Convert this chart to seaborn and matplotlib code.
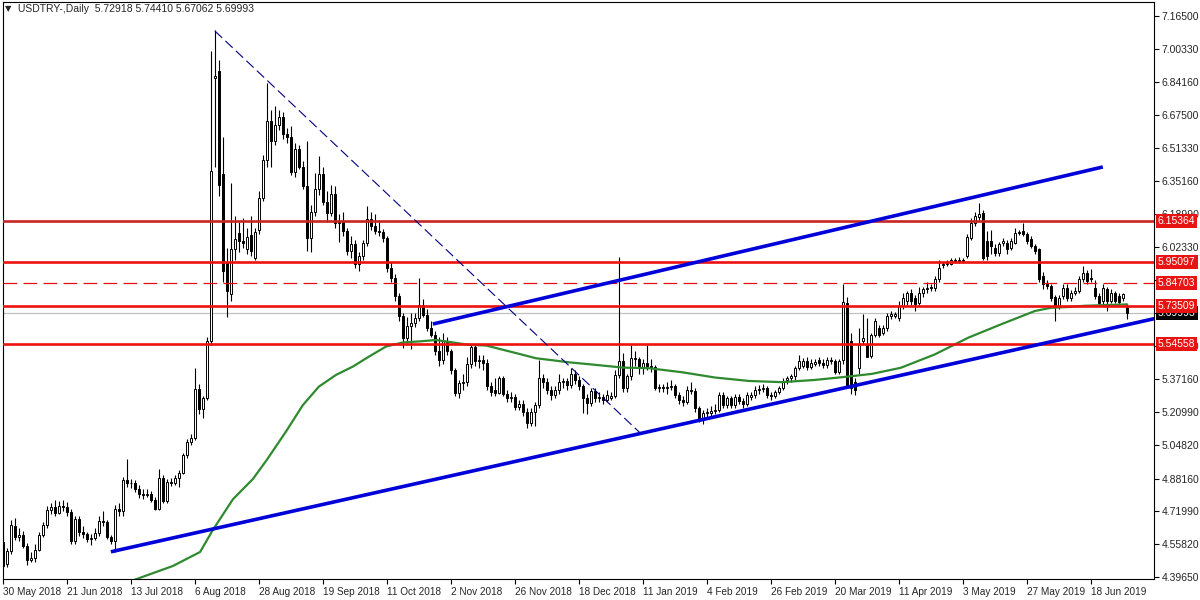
import numpy as np
import pandas as pd
import seaborn as sns
import matplotlib.pyplot as plt
import matplotlib.transforms as mtransforms

# USDTRY daily candles, 30 May 2018 .. 1 Jul 2019 (one value per bar)
opens = [
    4.567, 4.462, 4.523, 4.647, 4.594, 4.603, 4.550, 4.479, 4.488, 4.532,
    4.603, 4.655, 4.726, 4.740, 4.712, 4.745, 4.740, 4.717, 4.576, 4.682,
    4.620, 4.608, 4.585, 4.590, 4.612, 4.673, 4.668, 4.594, 4.576, 4.734,
    4.720, 4.876, 4.858, 4.860, 4.832, 4.805, 4.800, 4.805, 4.779, 4.734,
    4.885, 4.770, 4.867, 4.858, 4.885, 4.911, 5.000, 5.064, 5.082, 5.325,
    5.228, 5.281, 5.563, 6.858, 6.894, 6.383, 5.951, 5.792, 6.013, 6.092,
    6.056, 6.013, 6.083, 5.969, 6.110, 6.268, 6.453, 6.647, 6.550, 6.629,
    6.665, 6.585, 6.568, 6.393, 6.509, 6.418, 6.327, 6.071, 6.200, 6.310,
    6.385, 6.245, 6.195, 6.286, 6.145, 6.148, 6.104, 6.005, 6.038, 5.939,
    5.980, 6.046, 6.162, 6.129, 6.104, 6.100, 6.071, 5.922, 5.873, 5.782,
    5.683, 5.575, 5.633, 5.650, 5.675, 5.740, 5.690, 5.625, 5.592, 5.511,
    5.468, 5.559, 5.510, 5.418, 5.303, 5.352, 5.360, 5.450, 5.530, 5.464,
    5.466, 5.452, 5.340, 5.318, 5.305, 5.380, 5.302, 5.280, 5.284, 5.236,
    5.250, 5.210, 5.155, 5.212, 5.245, 5.377, 5.360, 5.320, 5.294, 5.320,
    5.360, 5.362, 5.344, 5.400, 5.370, 5.338, 5.279, 5.254, 5.312, 5.279,
    5.287, 5.270, 5.280, 5.288, 5.394, 5.460, 5.328, 5.386, 5.476, 5.470,
    5.427, 5.452, 5.440, 5.435, 5.328, 5.335, 5.328, 5.336, 5.340, 5.295,
    5.270, 5.262, 5.320, 5.312, 5.229, 5.171, 5.204, 5.208, 5.214, 5.222,
    5.295, 5.246, 5.279, 5.246, 5.287, 5.265, 5.250, 5.287, 5.293, 5.320,
    5.322, 5.330, 5.295, 5.290, 5.310, 5.328, 5.370, 5.377, 5.386, 5.427,
    5.440, 5.462, 5.435, 5.450, 5.468, 5.452, 5.443, 5.468, 5.463, 5.410,
    5.468, 5.750, 5.560, 5.360, 5.430, 5.559, 5.542, 5.486, 5.593, 5.623,
    5.602, 5.626, 5.684, 5.684, 5.676, 5.734, 5.758, 5.799, 5.775, 5.750,
    5.799, 5.820, 5.826, 5.822, 5.865, 5.935, 5.940, 5.943, 5.958, 5.956,
    5.959, 5.981, 6.071, 6.145, 6.173, 6.195, 6.055, 6.055, 6.022, 5.997,
    6.047, 6.047, 6.022, 6.047, 6.096, 6.104, 6.088, 6.063, 6.030, 6.014,
    5.882, 5.841, 5.832, 5.779, 5.734, 5.783, 5.824, 5.775, 5.799, 5.808,
    5.865, 5.898, 5.874, 5.824, 5.783, 5.758, 5.816, 5.758, 5.799, 5.783,
    5.775, 5.72918,
]
highs = [
    4.600, 4.540, 4.680, 4.690, 4.640, 4.625, 4.565, 4.520, 4.560, 4.620,
    4.670, 4.745, 4.760, 4.775, 4.770, 4.775, 4.765, 4.730, 4.700, 4.700,
    4.650, 4.620, 4.610, 4.640, 4.700, 4.720, 4.680, 4.605, 4.750, 4.760,
    4.890, 4.981, 4.880, 4.875, 4.850, 4.830, 4.830, 4.820, 4.790, 4.930,
    4.900, 4.880, 4.885, 4.900, 4.925, 5.010, 5.080, 5.100, 5.430, 5.350,
    5.290, 5.580, 6.991, 7.096, 6.946, 6.568, 6.020, 6.339, 6.180, 6.150,
    6.170, 6.120, 6.180, 6.120, 6.300, 6.480, 6.832, 6.700, 6.720, 6.700,
    6.690, 6.610, 6.620, 6.540, 6.530, 6.450, 6.550, 6.230, 6.390, 6.476,
    6.420, 6.300, 6.330, 6.327, 6.190, 6.200, 6.120, 6.080, 6.060, 6.000,
    6.060, 6.228, 6.200, 6.190, 6.160, 6.115, 6.080, 5.950, 5.890, 5.800,
    5.700, 5.680, 5.700, 5.700, 5.873, 5.770, 5.720, 5.660, 5.610, 5.580,
    5.600, 5.580, 5.520, 5.430, 5.370, 5.400, 5.480, 5.545, 5.545, 5.490,
    5.490, 5.470, 5.360, 5.380, 5.390, 5.390, 5.320, 5.310, 5.300, 5.270,
    5.270, 5.230, 5.230, 5.260, 5.468, 5.400, 5.380, 5.340, 5.340, 5.400,
    5.380, 5.380, 5.430, 5.420, 5.390, 5.350, 5.300, 5.330, 5.330, 5.310,
    5.300, 5.320, 5.310, 5.420, 5.974, 5.500, 5.400, 5.542, 5.510, 5.480,
    5.470, 5.542, 5.470, 5.445, 5.350, 5.350, 5.360, 5.370, 5.350, 5.310,
    5.290, 5.340, 5.360, 5.330, 5.240, 5.220, 5.230, 5.240, 5.250, 5.310,
    5.310, 5.290, 5.290, 5.300, 5.300, 5.280, 5.310, 5.310, 5.340, 5.345,
    5.350, 5.340, 5.310, 5.320, 5.340, 5.380, 5.390, 5.400, 5.440, 5.490,
    5.475, 5.480, 5.470, 5.470, 5.480, 5.470, 5.480, 5.480, 5.470, 5.470,
    5.842, 5.780, 5.600, 5.380, 5.625, 5.694, 5.674, 5.600, 5.676, 5.640,
    5.640, 5.700, 5.710, 5.705, 5.760, 5.800, 5.810, 5.820, 5.790, 5.830,
    5.830, 5.850, 5.840, 5.880, 5.960, 5.950, 5.960, 5.970, 5.970, 5.975,
    5.970, 6.090, 6.170, 6.200, 6.244, 6.210, 6.104, 6.110, 6.040, 6.050,
    6.070, 6.060, 6.070, 6.120, 6.110, 6.145, 6.100, 6.080, 6.040, 6.020,
    5.900, 5.860, 5.840, 5.790, 5.790, 5.840, 5.840, 5.815, 5.830, 5.880,
    5.930, 5.910, 5.915, 5.860, 5.800, 5.840, 5.830, 5.820, 5.810, 5.800,
    5.800, 5.74410,
]
lows = [
    4.440, 4.445, 4.510, 4.580, 4.575, 4.540, 4.455, 4.470, 4.470, 4.525,
    4.595, 4.640, 4.705, 4.700, 4.705, 4.720, 4.700, 4.560, 4.560, 4.600,
    4.590, 4.570, 4.555, 4.580, 4.600, 4.650, 4.585, 4.560, 4.520, 4.700,
    4.700, 4.840, 4.835, 4.815, 4.785, 4.780, 4.790, 4.765, 4.725, 4.725,
    4.760, 4.760, 4.845, 4.850, 4.840, 4.905, 4.985, 5.050, 5.075, 5.200,
    5.180, 5.270, 5.540, 6.418, 6.277, 5.854, 5.678, 5.760, 5.960, 6.000,
    6.020, 5.990, 5.980, 5.960, 6.090, 6.250, 6.420, 6.420, 6.530, 6.600,
    6.560, 6.540, 6.380, 6.370, 6.410, 6.310, 6.005, 6.000, 6.180, 6.280,
    6.230, 6.150, 6.180, 6.120, 6.050, 6.080, 5.985, 5.970, 5.920, 5.905,
    5.960, 6.030, 6.110, 6.090, 6.080, 6.050, 5.900, 5.850, 5.760, 5.660,
    5.526, 5.550, 5.520, 5.630, 5.660, 5.680, 5.610, 5.580, 5.490, 5.440,
    5.450, 5.490, 5.400, 5.290, 5.280, 5.320, 5.340, 5.430, 5.440, 5.430,
    5.420, 5.320, 5.290, 5.290, 5.300, 5.290, 5.260, 5.260, 5.220, 5.220,
    5.190, 5.133, 5.140, 5.140, 5.230, 5.330, 5.300, 5.270, 5.280, 5.300,
    5.330, 5.320, 5.330, 5.350, 5.320, 5.204, 5.200, 5.240, 5.260, 5.260,
    5.250, 5.260, 5.270, 5.280, 5.380, 5.310, 5.310, 5.370, 5.440, 5.400,
    5.400, 5.420, 5.410, 5.320, 5.310, 5.310, 5.300, 5.320, 5.280, 5.250,
    5.240, 5.250, 5.300, 5.210, 5.160, 5.150, 5.180, 5.190, 5.200, 5.210,
    5.230, 5.230, 5.230, 5.230, 5.250, 5.230, 5.240, 5.270, 5.280, 5.300,
    5.310, 5.280, 5.270, 5.280, 5.300, 5.320, 5.350, 5.360, 5.370, 5.420,
    5.430, 5.420, 5.425, 5.440, 5.440, 5.430, 5.430, 5.450, 5.400, 5.400,
    5.450, 5.330, 5.300, 5.295, 5.400, 5.540, 5.480, 5.478, 5.580, 5.580,
    5.590, 5.610, 5.670, 5.675, 5.660, 5.720, 5.740, 5.740, 5.709, 5.740,
    5.780, 5.800, 5.810, 5.810, 5.850, 5.920, 5.930, 5.935, 5.945, 5.945,
    5.945, 5.970, 6.060, 6.130, 6.160, 5.959, 5.960, 5.990, 5.980, 5.980,
    6.030, 5.990, 6.010, 6.040, 6.085, 6.080, 6.040, 6.020, 5.990, 5.850,
    5.820, 5.820, 5.760, 5.659, 5.720, 5.770, 5.760, 5.760, 5.790, 5.800,
    5.850, 5.840, 5.850, 5.770, 5.740, 5.740, 5.710, 5.750, 5.750, 5.740,
    5.760, 5.67062,
]
closes = [
    4.453, 4.523, 4.655, 4.594, 4.603, 4.550, 4.479, 4.488, 4.532, 4.603,
    4.655, 4.726, 4.740, 4.712, 4.745, 4.740, 4.717, 4.576, 4.682, 4.620,
    4.608, 4.585, 4.590, 4.612, 4.673, 4.668, 4.594, 4.576, 4.734, 4.720,
    4.876, 4.858, 4.860, 4.832, 4.805, 4.800, 4.805, 4.779, 4.734, 4.885,
    4.770, 4.867, 4.858, 4.885, 4.911, 5.000, 5.064, 5.082, 5.325, 5.228,
    5.281, 5.563, 6.400, 6.867, 6.330, 5.907, 5.810, 6.013, 6.065, 6.056,
    6.045, 6.074, 6.004, 6.101, 6.268, 6.453, 6.647, 6.550, 6.629, 6.665,
    6.585, 6.568, 6.393, 6.509, 6.418, 6.327, 6.071, 6.200, 6.310, 6.385,
    6.245, 6.195, 6.286, 6.145, 6.148, 6.104, 6.005, 6.038, 5.939, 5.980,
    6.046, 6.162, 6.129, 6.104, 6.100, 6.071, 5.922, 5.873, 5.782, 5.683,
    5.575, 5.633, 5.650, 5.675, 5.740, 5.690, 5.625, 5.592, 5.511, 5.468,
    5.559, 5.510, 5.418, 5.303, 5.352, 5.360, 5.450, 5.530, 5.464, 5.466,
    5.452, 5.340, 5.310, 5.305, 5.380, 5.302, 5.280, 5.284, 5.236, 5.250,
    5.210, 5.155, 5.212, 5.245, 5.377, 5.360, 5.320, 5.294, 5.320, 5.360,
    5.362, 5.344, 5.400, 5.370, 5.338, 5.279, 5.254, 5.312, 5.279, 5.287,
    5.270, 5.295, 5.288, 5.394, 5.460, 5.328, 5.386, 5.476, 5.470, 5.427,
    5.452, 5.440, 5.435, 5.328, 5.335, 5.328, 5.336, 5.340, 5.295, 5.270,
    5.262, 5.320, 5.312, 5.229, 5.171, 5.204, 5.213, 5.218, 5.222, 5.295,
    5.246, 5.279, 5.246, 5.287, 5.265, 5.250, 5.295, 5.293, 5.320, 5.325,
    5.330, 5.295, 5.288, 5.310, 5.328, 5.361, 5.377, 5.386, 5.427, 5.460,
    5.462, 5.435, 5.452, 5.456, 5.452, 5.443, 5.468, 5.463, 5.410, 5.460,
    5.756, 5.340, 5.330, 5.320, 5.542, 5.575, 5.484, 5.593, 5.659, 5.590,
    5.623, 5.684, 5.692, 5.695, 5.734, 5.775, 5.799, 5.758, 5.742, 5.799,
    5.816, 5.824, 5.822, 5.865, 5.923, 5.939, 5.943, 5.959, 5.956, 5.959,
    5.955, 6.075, 6.145, 6.178, 6.190, 5.972, 5.981, 6.030, 5.997, 6.038,
    6.055, 6.014, 6.055, 6.096, 6.094, 6.088, 6.055, 6.030, 6.005, 5.865,
    5.841, 5.832, 5.775, 5.734, 5.775, 5.824, 5.775, 5.799, 5.808, 5.865,
    5.898, 5.857, 5.865, 5.783, 5.750, 5.824, 5.758, 5.799, 5.758, 5.755,
    5.791, 5.69993,
]

# moving average (green): bar index / value
ma_bar = [31, 33.4, 42.4, 49.2, 52.4, 57.4, 62.4, 65.9, 70.7, 74.9, 78.9, 83.2,
          87.4, 91.4, 95.7, 99.9, 103.9, 108.2, 112.4, 116.4, 120.7, 124.9,
          128.9, 133.2, 137.4, 141.4, 145.7, 154.9, 161.4, 169.7, 177.9, 186.4,
          194.7, 202.9, 211.4, 217.2, 224.4, 232.9, 241.2, 249.4, 257.9, 261.9,
          266.2, 270.4, 281]
ma_val = [4.370, 4.387, 4.451, 4.520, 4.629, 4.780, 4.880, 4.975, 5.115, 5.245,
          5.336, 5.394, 5.435, 5.484, 5.534, 5.554, 5.559, 5.566, 5.554, 5.542,
          5.539, 5.518, 5.498, 5.476, 5.466, 5.456, 5.448, 5.430, 5.427, 5.407,
          5.381, 5.364, 5.358, 5.369, 5.386, 5.399, 5.429, 5.495, 5.577, 5.643,
          5.709, 5.725, 5.729, 5.735, 5.742]

# trend lines (bar index, price)
lower_trend_bar = [26.9, 292]
lower_trend_val = [4.521, 5.690]
upper_trend_bar = [107.4, 274.9]
upper_trend_val = [5.645, 6.420]
dash_trend_bar = [52.9, 159.2]
dash_trend_val = [7.091, 5.108]

# horizontal levels
solid_levels = [6.15364, 5.95097, 5.73509, 5.54558]
dashed_level = 5.84703
last_price = 5.69993

# price scale; the two levels sitting fully under badges get no label
yticks = [7.165, 7.0033, 6.8416, 6.675, 6.5133, 6.3516, 6.1899, 6.0233, 5.8616,
          5.6999, 5.5382, 5.3716, 5.2099, 5.0482, 4.8816, 4.7199, 4.5582, 4.3965]
hidden_ticks = [5.8616, 5.6999]
xtick_bars = list(range(0, 273, 16))
xtick_labels = ['30 May 2018', '21 Jun 2018', '13 Jul 2018', '6 Aug 2018',
                '28 Aug 2018', '19 Sep 2018', '11 Oct 2018', '2 Nov 2018',
                '26 Nov 2018', '18 Dec 2018', '11 Jan 2019', '4 Feb 2019',
                '26 Feb 2019', '20 Mar 2019', '11 Apr 2019', '3 May 2019',
                '27 May 2019', '18 Jun 2019']

sns.set_style('white')
plt.rcParams['font.family'] = ['Liberation Sans', 'DejaVu Sans']

df = pd.DataFrame({'open': opens, 'high': highs, 'low': lows, 'close': closes})
df['bar'] = np.arange(len(df))
ma = pd.DataFrame({'bar': ma_bar, 'ma': ma_val})

fig = plt.figure(figsize=(12, 6), dpi=100)
ax = fig.add_axes([2.5 / 1200, 21 / 600, 1151.5 / 1200, 577 / 600])

# candles: wicks, then bodies (white = up, black = down)
ax.vlines(df['bar'], df['low'], df['high'], color='black', lw=0.8, zorder=2)
up = df['close'] >= df['open']
body_lo = df[['open', 'close']].min(axis=1)
body_h = (df['close'] - df['open']).abs().clip(lower=0.004)
ax.bar(df['bar'][up], body_h[up], bottom=body_lo[up], width=0.6,
       color='white', edgecolor='black', linewidth=0.7, zorder=3)
ax.bar(df['bar'][~up], body_h[~up], bottom=body_lo[~up], width=0.6,
       color='black', edgecolor='black', linewidth=0.7, zorder=3)

sns.lineplot(data=ma, x='bar', y='ma', color='#2f8a2f', lw=1.6, ax=ax, zorder=3.5)

# levels and drawn objects
ax.axhline(last_price, color='#c0c0c0', lw=0.9, zorder=1)
for lv in solid_levels:
    c = '#c82424' if lv == solid_levels[0] else '#ee1111'
    ax.axhline(lv, color=c, lw=1.9, zorder=4)
ax.axhline(dashed_level, color='#e01010', lw=0.9, dashes=(11, 5), zorder=4)

ax.plot(lower_trend_bar, lower_trend_val, color='#0000d8', lw=2.6,
        solid_capstyle='butt', zorder=4)
ax.plot(upper_trend_bar, upper_trend_val, color='#0000d8', lw=2.6,
        solid_capstyle='butt', zorder=4)
ax.plot(dash_trend_bar, dash_trend_val, color='#000080', lw=0.8,
        dashes=(9, 4), zorder=4)

ax.set_xlim(-0.2, 287.7)
ax.set_ylim(4.3867, 7.234)
ax.set_xlabel('')
ax.set_ylabel('')

ax.set_xticks(xtick_bars)
ax.set_xticklabels(xtick_labels, fontsize=7.2)
for lbl in ax.get_xticklabels():
    lbl.set_ha('left')
ax.yaxis.tick_right()
ax.set_yticks(yticks)
ax.set_yticklabels(['' if v in hidden_ticks else f'{v:.5f}' for v in yticks],
                   fontsize=7.5)
ax.tick_params(axis='both', direction='out', length=3.5, width=0.8,
               color='black', pad=2, bottom=True, right=True, left=False)
for sp in ax.spines.values():
    sp.set_color('black')
    sp.set_linewidth(0.8)

# price badges on the right axis
trans = mtransforms.blended_transform_factory(ax.transAxes, ax.transData)
xb = 1.0 + 4 / 1151.5
ax.text(xb, last_price, f'{last_price:.5f}', transform=trans, ha='left',
        va='center', fontsize=7.5, color='white', zorder=10, clip_on=False,
        bbox=dict(boxstyle='square,pad=0.18', fc='black', ec='none'))
for lv in solid_levels + [dashed_level]:
    ax.text(xb, lv, f'{lv:.5f}', transform=trans, ha='left', va='center',
            fontsize=7.5, color='white', zorder=11, clip_on=False,
            bbox=dict(boxstyle='square,pad=0.18', fc='#e81414', ec='none'))

# header
fig.text(5 / 1200, 1 - 9 / 600, '\u25bc', fontsize=6, va='center',
         family='DejaVu Sans')
fig.text(18 / 1200, 1 - 9 / 600,
         'USDTRY-,Daily  5.72918 5.74410 5.67062 5.69993',
         fontsize=7.5, va='center')

fig.savefig('out.png', dpi=100)
